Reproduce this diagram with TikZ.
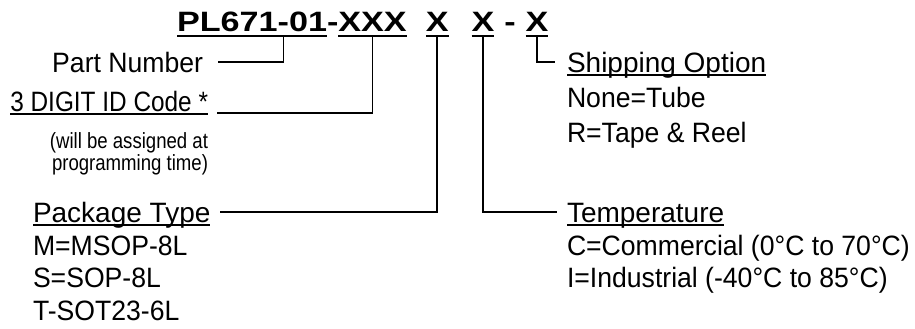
\documentclass[tikz,border=0pt]{standalone}
\usepackage{fontspec}
\setmainfont{Liberation Sans}
\newfontfamily\bodyfont[FakeStretch=0.95]{Liberation Sans}
\newfontfamily\capsfont[FakeStretch=0.87]{Liberation Sans}
\newfontfamily\notefont[FakeStretch=0.845]{Liberation Sans}
\newfontfamily\ttlfont[FakeStretch=1.22]{Liberation Sans}
\usetikzlibrary{positioning}

\newsavebox{\ulbox}
\newcommand{\ulttl}[1]{\sbox{\ulbox}{#1}\makebox[0pt][l]{\rule[-5.3pt]{\wd\ulbox}{2.3pt}}\usebox{\ulbox}}
\newcommand{\ullbl}[1]{\sbox{\ulbox}{#1}\makebox[0pt][l]{\rule[-3.5pt]{\wd\ulbox}{1.5pt}}\usebox{\ulbox}}

\begin{document}
\begin{tikzpicture}[x=1pt,y=-1pt,
	ttl/.style={inner sep=0pt,outer sep=0pt,font=\ttlfont\bfseries\fontsize{28}{34}\selectfont},
	lbl/.style={inner sep=0pt,outer sep=0pt,text height=20pt,text depth=0pt,font=\bodyfont\fontsize{28}{34}\selectfont},
	hdr/.style={lbl,font=\fontsize{28}{34}\selectfont},
	opts/.style={inner sep=0pt,outer sep=0pt,align=left,font=\bodyfont\fontsize{28}{32.5}\selectfont},
	note/.style={inner sep=0pt,outer sep=0pt,align=right,font=\notefont\fontsize{22}{20}\selectfont},
	conn/.style={draw,line width=1.6pt}]
	\path[use as bounding box,fill=white] (0,0) rectangle (915,329);

	\node[ttl,anchor=base west] (pl) at (177,32) {\ulttl{PL671}};
	\node[ttl,base right=0pt of pl] (hy) {\ulttl{-}};
	\node[ttl,base right=0pt of hy] (rv) {\ulttl{01}};
	\node[ttl,base right=0pt of rv] (d1) {-};
	\node[ttl,base right=0pt of d1] (id) {\ulttl{XXX}};
	\node[ttl,base right=19pt of id] (pk) {\ulttl{X}};
	\node[ttl,base right=23pt of pk] (tp) {\ulttl{X}};
	\node[ttl,base right=10pt of tp] (d2) {-};
	\node[ttl,base right=10pt of d2] (sh) {\ulttl{X}};

	\node[lbl,anchor=base east] (pnum) at (203,72) {Part Number};
	\node[lbl,anchor=base east,font=\capsfont\fontsize{28}{34}\selectfont] (idl) at (208,111) {\ullbl{3 DIGIT ID Code *}};
	\node[note,anchor=base east] (idn) at (208,170) {(will be assigned at\\programming time)};
	\node[hdr,anchor=base west] (pkl) at (33,222) {\ullbl{Package Type}};
	\node[opts,anchor=base west,yshift=-98pt] (pko) at (pkl.base west) {M=MSOP-8L\\S=SOP-8L\\T-SOT23-6L};

	\node[hdr,anchor=base west] (shl) at (567,72) {\ullbl{Shipping Option}};
	\node[opts,anchor=base west,yshift=-70pt,font=\bodyfont\fontsize{28}{35}\selectfont] (sho) at (shl.base west) {None=Tube\\R=Tape \& Reel};
	\node[hdr,anchor=base west] (tpl) at (567,222) {\ullbl{Temperature}};
	\node[opts,anchor=base west,yshift=-65.5pt] (tpo) at (tpl.base west) {C=Commercial (0°C to 70°C)\\I=Industrial (-40°C to 85°C)};

	\draw[conn] (hy.south) |- ([xshift=15pt]pnum.east);
	\draw[conn] (id.south) |- ([xshift=9pt,yshift=-2pt]idl.base east);
	\draw[conn] (pk.south) |- ([xshift=10pt]pkl.east);
	\draw[conn] (tp.south) |- ([xshift=-10pt]tpl.west);
	\draw[conn] (sh.south) |- ([xshift=-12pt]shl.west);
\end{tikzpicture}
\end{document}
